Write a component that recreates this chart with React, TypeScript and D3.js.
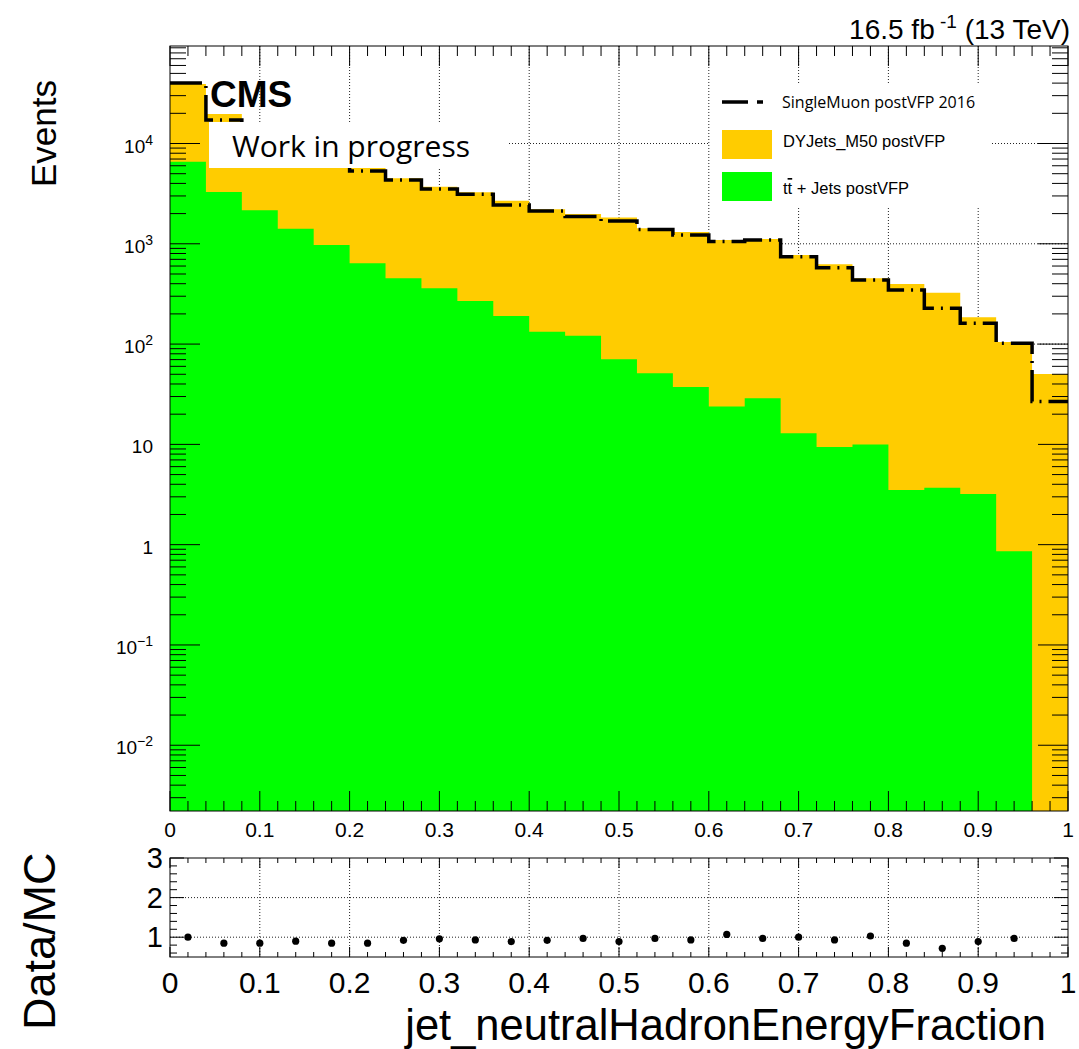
import React, { useEffect, useRef } from 'react';
import * as d3 from 'd3';

// bins of jet_neutralHadronEnergyFraction (width 0.04)
const binLow = [0, 0.04, 0.08, 0.12, 0.16, 0.2, 0.24, 0.28, 0.32, 0.36, 0.4, 0.44, 0.48,
  0.52, 0.56, 0.6, 0.64, 0.68, 0.72, 0.76, 0.8, 0.84, 0.88, 0.92, 0.96];
const binHigh = 1;

// events per bin
const ttbarEvents = [6590, 3280, 2160, 1416, 973, 640, 453, 360, 269, 191, 133, 121, 70.5,
  51.2, 37.3, 23.8, 28.8, 12.9, 9.4, 10.0, 3.5, 3.7, 3.2, 0.86, 0];
const dyEvents = [32600, 16400, 12100, 8930, 6710, 5610, 4050, 3350, 2990, 2500, 2080, 1860, 1760,
  1380, 1275, 1067, 1088, 760, 616, 443, 394, 321, 182, 104, 50.4];
const dataEvents = [40100, 17150, 12160, 9020, 6550, 5320, 4325, 3516, 3116, 2438, 2123, 1871, 1687,
  1390, 1225, 1055, 1091, 743, 578, 436, 346, 228, 161, 102, 26.7];
// Data/MC as drawn in the lower pad
const ratioValues = [1.0, 0.85, 0.85, 0.9, 0.85, 0.85, 0.92, 0.96, 0.93, 0.89, 0.92, 0.97, 0.89,
  0.97, 0.93, 1.07, 0.97, 1.0, 0.93, 1.03, 0.85, 0.72, 0.89, 0.97, null];

const xTickLabels = ['0', '0.1', '0.2', '0.3', '0.4', '0.5', '0.6', '0.7', '0.8', '0.9', '1'];
const yDecades = [-2, -1, 0, 1, 2, 3, 4];
const ratioTicks = [1, 2, 3];

const legendEntries = ['SingleMuon postVFP 2016', 'DYJets_M50 postVFP', 'tt + Jets postVFP'];

const HELV = '"Liberation Sans", Arial, Helvetica, sans-serif';
const CALI = '"Open Sans", "Noto Sans", sans-serif';

const App = () => {
  const svgRef = useRef<SVGSVGElement>(null);

  useEffect(() => {
    if (!svgRef.current) return;
    const svg = d3.select(svgRef.current);
    svg.selectAll('*').remove();

    const L = 170, R = 1068, T = 46, B = 811;
    const rT = 858, rB = 957;

    const x = d3.scaleLinear().domain([0, 1]).range([L, R]);
    const y = d3.scaleLog().domain([0.00221, 93800]).range([B, T]);
    const yr = d3.scaleLinear().domain([0.5, 3]).range([rB, rT]);
    const yv = (v: number) => (v > 0 ? Math.min(B, y(v)) : B);

    svg.append('rect').attr('width', 1079).attr('height', 1049).attr('fill', '#fff');

    const dotted = (g: any) => g.attr('stroke', '#222').attr('stroke-width', 1).attr('stroke-dasharray', '1 2');

    // grid, main pad
    const grid = svg.append('g');
    d3.range(1, 10).forEach(i => {
      grid.append('line').attr('x1', x(i / 10)).attr('x2', x(i / 10)).attr('y1', T).attr('y2', B).call(dotted);
    });
    yDecades.forEach(d => {
      grid.append('line').attr('x1', L).attr('x2', R).attr('y1', y(Math.pow(10, d))).attr('y2', y(Math.pow(10, d))).call(dotted);
    });

    // stacked histograms
    const steps = (vals: number[]) => vals.map((v, i) => [binLow[i], v] as [number, number])
      .concat([[binHigh, vals[vals.length - 1]]]);
    const area = d3.area<[number, number]>()
      .x(d => x(d[0])).y0(B).y1(d => yv(d[1])).curve(d3.curveStepAfter);
    const totalEvents = dyEvents.map((v, i) => v + ttbarEvents[i]);
    svg.append('path').attr('d', area(steps(totalEvents))).attr('fill', '#ffcc00');
    svg.append('path').attr('d', area(steps(ttbarEvents))).attr('fill', '#00ff00');

    // data step line
    const line = d3.line<[number, number]>().x(d => x(d[0])).y(d => yv(d[1])).curve(d3.curveStepAfter);
    svg.append('path').attr('d', line(steps(dataEvents)))
      .attr('fill', 'none').attr('stroke', '#000').attr('stroke-width', 3.5)
      .attr('stroke-dasharray', '32 7 2 7');

    // CMS label
    svg.append('text').attr('x', 210).attr('y', 107).attr('font-family', HELV)
      .attr('font-weight', 'bold').attr('font-size', 37).text('CMS');
    svg.append('rect').attr('x', 209).attr('y', 122).attr('width', 298).attr('height', 46).attr('fill', '#fff');
    svg.append('text').attr('x', 232).attr('y', 157).attr('font-family', CALI)
      .attr('font-size', 30).text('Work in progress');

    // legend
    svg.append('rect').attr('x', 710).attr('y', 84).attr('width', 281).attr('height', 122).attr('fill', '#fff');
    svg.append('line').attr('x1', 722).attr('x2', 763).attr('y1', 102).attr('y2', 102)
      .attr('stroke', '#000').attr('stroke-width', 3.5).attr('stroke-dasharray', '26 9 6');
    svg.append('rect').attr('x', 722).attr('y', 130).attr('width', 50).attr('height', 29).attr('fill', '#ffcc00');
    svg.append('rect').attr('x', 722).attr('y', 172).attr('width', 50).attr('height', 29).attr('fill', '#00ff00');
    svg.append('text').attr('x', 782).attr('y', 108).attr('font-family', CALI).attr('font-size', 16).text(legendEntries[0]);
    svg.append('text').attr('x', 783).attr('y', 147).attr('font-family', HELV).attr('font-size', 16.5).text(legendEntries[1]);
    const tt = svg.append('text').attr('x', 783).attr('y', 194).attr('font-family', HELV).attr('font-size', 16.5);
    tt.append('tspan').text('t');
    tt.append('tspan').style('text-decoration', 'overline').text('t');
    tt.append('tspan').text(legendEntries[2].slice(2));

    // frame + ticks, main pad
    const ax = svg.append('g').attr('stroke', '#000').attr('stroke-width', 1);
    ax.append('rect').attr('x', L).attr('y', T).attr('width', R - L).attr('height', B - T).attr('fill', 'none');
    d3.range(0, 51).forEach(i => {
      const len = i % 5 === 0 ? 20 : 10;
      const xx = x(i / 50);
      ax.append('line').attr('x1', xx).attr('x2', xx).attr('y1', B).attr('y2', B - len);
      ax.append('line').attr('x1', xx).attr('x2', xx).attr('y1', T).attr('y2', T + len);
    });
    d3.range(-3, 5).forEach(d => {
      d3.range(1, 10).forEach(k => {
        const v = k * Math.pow(10, d);
        if (v < y.domain()[0] || v > y.domain()[1]) return;
        const len = k === 1 ? 30 : 16;
        const yy = y(v);
        ax.append('line').attr('x1', L).attr('x2', L + len).attr('y1', yy).attr('y2', yy);
        ax.append('line').attr('x1', R).attr('x2', R - len).attr('y1', yy).attr('y2', yy);
      });
    });

    // tick labels main
    xTickLabels.forEach((t, i) => {
      svg.append('text').attr('x', x(i / 10)).attr('y', 837).attr('text-anchor', 'middle')
        .attr('font-family', HELV).attr('font-size', 21).text(t);
    });
    yDecades.forEach(d => {
      const tx = svg.append('text').attr('x', 153).attr('y', y(Math.pow(10, d)) + 9)
        .attr('text-anchor', 'end').attr('font-family', HELV).attr('font-size', 19);
      if (d === 0) tx.text('1');
      else if (d === 1) tx.text('10');
      else {
        tx.append('tspan').text('10');
        tx.append('tspan').attr('dy', -8).attr('font-size', 14).text(d < 0 ? '\u2212' + (-d) : String(d));
      }
    });

    svg.append('text').attr('transform', 'translate(56,187) rotate(-90)')
      .attr('font-family', HELV).attr('font-size', 35).text('Events');

    const lumi = svg.append('text').attr('x', 1070).attr('y', 39).attr('text-anchor', 'end')
      .attr('font-family', HELV).attr('font-size', 28);
    lumi.append('tspan').text('16.5 fb');
    lumi.append('tspan').attr('dy', -11).attr('font-size', 19).text(' -1');
    lumi.append('tspan').attr('dy', 11).text(' (13 TeV)');

    // ratio pad
    const rg = svg.append('g');
    d3.range(1, 10).forEach(i => {
      rg.append('line').attr('x1', x(i / 10)).attr('x2', x(i / 10)).attr('y1', rT).attr('y2', rB).call(dotted);
    });
    [1, 2].forEach(v => {
      rg.append('line').attr('x1', L).attr('x2', R).attr('y1', yr(v)).attr('y2', yr(v)).call(dotted);
    });
    ratioValues.forEach((v, i) => {
      if (v == null) return;
      svg.append('circle').attr('cx', x(binLow[i] + 0.02)).attr('cy', yr(v)).attr('r', 3.6).attr('fill', '#000');
    });
    const rax = svg.append('g').attr('stroke', '#000').attr('stroke-width', 1);
    rax.append('rect').attr('x', L).attr('y', rT).attr('width', R - L).attr('height', rB - rT).attr('fill', 'none');
    d3.range(0, 51).forEach(i => {
      const len = i % 5 === 0 ? 10 : 5;
      const xx = x(i / 50);
      rax.append('line').attr('x1', xx).attr('x2', xx).attr('y1', rB).attr('y2', rB - len);
      rax.append('line').attr('x1', xx).attr('x2', xx).attr('y1', rT).attr('y2', rT + len);
    });
    d3.range(3, 16).forEach(i => {
      const v = i / 5;
      const len = i % 5 === 0 ? 14 : 7;
      rax.append('line').attr('x1', L).attr('x2', L + len).attr('y1', yr(v)).attr('y2', yr(v));
      rax.append('line').attr('x1', R).attr('x2', R - len).attr('y1', yr(v)).attr('y2', yr(v));
    });
    xTickLabels.forEach((t, i) => {
      svg.append('text').attr('x', x(i / 10)).attr('y', 993).attr('text-anchor', 'middle')
        .attr('font-family', HELV).attr('font-size', 30).text(t);
    });
    ratioTicks.forEach(v => {
      svg.append('text').attr('x', 163).attr('y', yr(v) + 10).attr('text-anchor', 'end')
        .attr('font-family', HELV).attr('font-size', 29).text(String(v));
    });
    svg.append('text').attr('transform', 'translate(55,1030) rotate(-90)')
      .attr('font-family', HELV).attr('font-size', 45).text('Data/MC');
    svg.append('text').attr('x', 1046).attr('y', 1040).attr('text-anchor', 'end')
      .attr('font-family', HELV).attr('font-size', 43.5).text('jet_neutralHadronEnergyFraction');
  }, []);

  return (
    <svg ref={svgRef} width={1079} height={1049}
      style={{ position: 'absolute', left: 0, top: 0, display: 'block' }}></svg>
  );
};

export default App;
